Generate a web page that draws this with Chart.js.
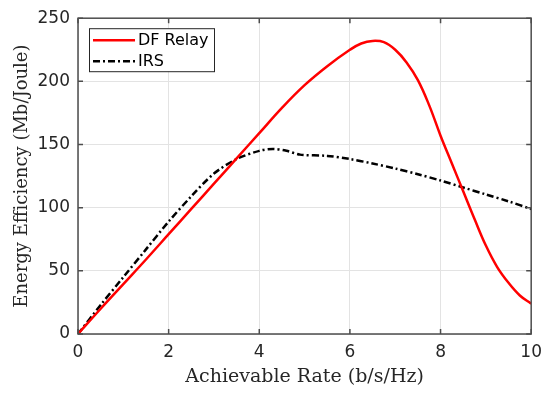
<!DOCTYPE html>
<html>
<head>
<meta charset="utf-8">
<script src="https://cdn.jsdelivr.net/npm/chart.js@4.4.0/dist/chart.umd.min.js"></script>
<style>
  html, body { margin: 0; padding: 0; background: #fff; }
  #wrap { width: 550px; height: 397px; }
</style>
</head>
<body>
<div id="wrap"><canvas id="eeChart"></canvas></div>
<script>
// DF relay curve
const rateDF = [0, 0.5, 1, 1.5, 2, 2.5, 3, 3.5, 4, 4.5, 5, 5.5, 6, 6.25, 6.5, 6.75, 7, 7.25, 7.5, 7.75, 8, 8.25, 8.5, 8.75, 9, 9.25, 9.5, 9.75, 10];
const eeDF = [0, 20, 39.5, 59, 79, 99, 119, 139, 159, 179, 197, 212, 225, 230, 232, 231, 225, 215, 201, 181, 157, 135, 113, 91, 70, 53, 40.5, 30.5, 24];

// IRS curve
const rateIRS = [0, 0.5, 1, 1.5, 2, 2.5, 3, 3.5, 4, 4.3, 4.6, 4.9, 5.5, 6, 6.5, 7, 7.5, 8, 8.5, 9, 9.5, 10];
const eeIRS = [0, 23, 45, 67, 89, 109, 127, 138.5, 145, 146.5, 145, 142, 141, 138.5, 135, 131, 126.5, 121.5, 116, 110.5, 105, 99];

const xTicks = [0, 2, 4, 6, 8, 10];
const yTicks = [0, 50, 100, 150, 200, 250];

const toPoints = (xs, ys) => xs.map((x, i) => ({ x: x, y: ys[i] }));

// box around the axes, with inward ticks on all four sides
const frameBox = {
    id: 'frameBox',
    afterDatasetsDraw(chart) {
        const { ctx, chartArea: a, scales } = chart;
        ctx.save();
        ctx.strokeStyle = '#4d4d4d';
        ctx.lineWidth = 1.5;
        ctx.beginPath();
        xTicks.forEach(v => {
            const px = scales.x.getPixelForValue(v);
            ctx.moveTo(px, a.bottom); ctx.lineTo(px, a.bottom - 5);
            ctx.moveTo(px, a.top); ctx.lineTo(px, a.top + 5);
        });
        yTicks.forEach(v => {
            const py = scales.y.getPixelForValue(v);
            ctx.moveTo(a.left, py); ctx.lineTo(a.left + 5, py);
            ctx.moveTo(a.right, py); ctx.lineTo(a.right - 5, py);
        });
        ctx.stroke();
        ctx.strokeRect(a.left, a.top, a.right - a.left, a.bottom - a.top);
        ctx.restore();
    }
};

// legend box in the upper left corner of the plot
const boxLegend = {
    id: 'boxLegend',
    afterDraw(chart) {
        const { ctx, chartArea: a } = chart;
        const x0 = a.left + 11, y0 = a.top + 10;
        const w = 125, h = 43, rowH = 21;
        ctx.save();
        ctx.fillStyle = '#fff';
        ctx.fillRect(x0, y0, w, h);
        ctx.strokeStyle = '#262626';
        ctx.lineWidth = 1;
        ctx.strokeRect(x0 + 0.5, y0 + 0.5, w, h);
        ctx.font = '16px "DejaVu Sans"';
        ctx.textBaseline = 'middle';
        chart.data.datasets.forEach((ds, i) => {
            const cy = y0 + 12 + i * rowH;
            ctx.strokeStyle = ds.borderColor;
            ctx.lineWidth = ds.borderWidth;
            ctx.setLineDash(ds.borderDash || []);
            ctx.beginPath();
            ctx.moveTo(x0 + 4, cy);
            ctx.lineTo(x0 + 46, cy);
            ctx.stroke();
            ctx.setLineDash([]);
            ctx.fillStyle = '#000';
            ctx.fillText(ds.label, x0 + 49, cy + 1);
        });
        ctx.restore();
    }
};

new Chart(document.getElementById('eeChart'), {
    type: 'line',
    data: {
        datasets: [
            {
                label: 'DF Relay',
                data: toPoints(rateDF, eeDF),
                borderColor: '#ff0000',
                borderWidth: 2.5,
                pointRadius: 0,
                tension: 0.4
            },
            {
                label: 'IRS',
                data: toPoints(rateIRS, eeIRS),
                borderColor: '#000000',
                borderWidth: 2.5,
                borderDash: [7, 3, 2, 3],
                pointRadius: 0,
                tension: 0.3
            }
        ]
    },
    options: {
        responsive: true,
        maintainAspectRatio: false,
        animation: false,
        layout: { padding: { top: 18, right: 18, left: 0, bottom: 0 } },
        plugins: {
            legend: { display: false },
            tooltip: { enabled: false }
        },
        scales: {
            x: {
                type: 'linear',
                min: 0,
                max: 10,
                afterFit: s => { s.height = 63; },
                afterBuildTicks: s => { s.ticks = xTicks.map(v => ({ value: v })); },
                grid: { color: '#e3e3e3', drawTicks: false },
                border: { display: false },
                ticks: {
                    padding: 8,
                    color: '#262626',
                    font: { family: 'DejaVu Sans', size: 17 },
                    maxRotation: 0
                },
                title: {
                    display: true,
                    text: 'Achievable Rate (b/s/Hz)',
                    color: '#262626',
                    font: { family: 'DejaVu Serif', size: 19 },
                    padding: { top: 0, bottom: 9 }
                }
            },
            y: {
                min: 0,
                max: 250,
                afterFit: s => { s.width = 78; },
                afterBuildTicks: s => { s.ticks = yTicks.map(v => ({ value: v })); },
                grid: { color: '#e3e3e3', drawTicks: false },
                border: { display: false },
                ticks: {
                    padding: 8,
                    color: '#262626',
                    font: { family: 'DejaVu Sans', size: 17 }
                },
                title: {
                    display: true,
                    text: 'Energy Efficiency (Mb/Joule)',
                    color: '#262626',
                    font: { family: 'DejaVu Serif', size: 18 },
                    padding: { top: 12, bottom: 0 }
                }
            }
        }
    },
    plugins: [frameBox, boxLegend]
});
</script>
</body>
</html>
